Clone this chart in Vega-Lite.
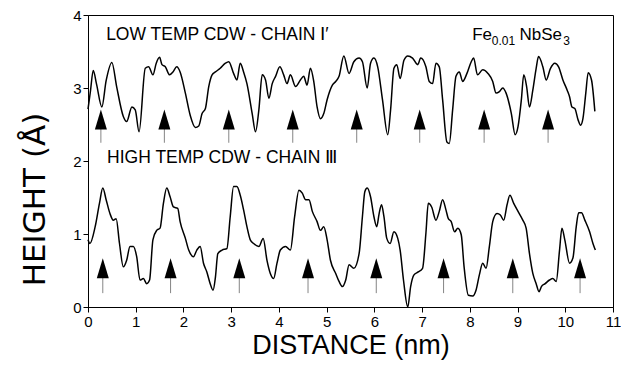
{
  "$schema": "https://vega.github.io/schema/vega-lite/v6.json",
  "width": 525,
  "height": 292,
  "autosize": "none",
  "padding": {"left": 88, "top": 15, "right": 8, "bottom": 62},
  "background": "white",
  "config": {
    "font": "Liberation Sans",
    "view": {"stroke": "black", "strokeWidth": 1}
  },
  "datasets": {
    "profiles": [
      {"series":"low","x":0.0,"y":2.71},{"series":"low","x":0.05,"y":2.95},{"series":"low","x":0.11,"y":3.24},{"series":"low","x":0.18,"y":3.05},{"series":"low","x":0.29,"y":2.74},{"series":"low","x":0.38,"y":3.10},{"series":"low","x":0.50,"y":3.35},{"series":"low","x":0.60,"y":3.02},{"series":"low","x":0.74,"y":2.61},{"series":"low","x":0.81,"y":2.54},{"series":"low","x":0.92,"y":2.74},{"series":"low","x":0.99,"y":2.70},{"series":"low","x":1.07,"y":2.40},{"series":"low","x":1.20,"y":3.27},{"series":"low","x":1.27,"y":3.29},{"series":"low","x":1.36,"y":3.18},{"series":"low","x":1.43,"y":3.34},{"series":"low","x":1.50,"y":3.42},{"series":"low","x":1.55,"y":3.32},{"series":"low","x":1.62,"y":3.29},{"series":"low","x":1.71,"y":3.18},{"series":"low","x":1.78,"y":3.22},{"series":"low","x":1.86,"y":3.29},{"series":"low","x":1.93,"y":3.22},{"series":"low","x":2.04,"y":2.93},{"series":"low","x":2.14,"y":2.63},{"series":"low","x":2.25,"y":2.46},{"series":"low","x":2.32,"y":2.48},{"series":"low","x":2.39,"y":2.65},{"series":"low","x":2.46,"y":2.72},{"series":"low","x":2.53,"y":3.02},{"series":"low","x":2.60,"y":3.18},{"series":"low","x":2.67,"y":3.22},{"series":"low","x":2.77,"y":3.27},{"series":"low","x":2.88,"y":3.34},{"series":"low","x":2.95,"y":3.36},{"series":"low","x":3.05,"y":3.20},{"series":"low","x":3.12,"y":3.11},{"series":"low","x":3.19,"y":3.34},{"series":"low","x":3.26,"y":3.22},{"series":"low","x":3.33,"y":3.06},{"series":"low","x":3.44,"y":2.65},{"series":"low","x":3.51,"y":2.40},{"series":"low","x":3.58,"y":2.70},{"series":"low","x":3.65,"y":3.18},{"series":"low","x":3.72,"y":3.11},{"series":"low","x":3.79,"y":2.86},{"series":"low","x":3.86,"y":3.06},{"series":"low","x":3.93,"y":3.16},{"series":"low","x":4.02,"y":3.29},{"series":"low","x":4.10,"y":3.18},{"series":"low","x":4.17,"y":3.06},{"series":"low","x":4.24,"y":3.18},{"series":"low","x":4.35,"y":3.02},{"series":"low","x":4.45,"y":3.11},{"series":"low","x":4.52,"y":3.16},{"series":"low","x":4.59,"y":3.04},{"series":"low","x":4.66,"y":3.27},{"series":"low","x":4.73,"y":3.09},{"series":"low","x":4.80,"y":2.74},{"series":"low","x":4.87,"y":2.58},{"series":"low","x":4.94,"y":2.65},{"series":"low","x":5.01,"y":2.84},{"series":"low","x":5.12,"y":3.04},{"series":"low","x":5.19,"y":3.09},{"series":"low","x":5.26,"y":3.16},{"series":"low","x":5.36,"y":3.44},{"series":"low","x":5.47,"y":3.20},{"series":"low","x":5.57,"y":3.36},{"series":"low","x":5.68,"y":3.41},{"series":"low","x":5.75,"y":3.36},{"series":"low","x":5.85,"y":3.00},{"series":"low","x":5.92,"y":3.34},{"series":"low","x":5.99,"y":3.41},{"series":"low","x":6.07,"y":3.29},{"series":"low","x":6.17,"y":2.84},{"series":"low","x":6.28,"y":2.36},{"series":"low","x":6.34,"y":2.70},{"series":"low","x":6.41,"y":3.27},{"series":"low","x":6.47,"y":3.32},{"series":"low","x":6.54,"y":3.13},{"series":"low","x":6.62,"y":3.38},{"series":"low","x":6.70,"y":3.44},{"series":"low","x":6.80,"y":3.41},{"series":"low","x":6.91,"y":3.32},{"series":"low","x":6.97,"y":3.41},{"series":"low","x":7.08,"y":3.29},{"series":"low","x":7.15,"y":3.09},{"series":"low","x":7.22,"y":3.06},{"series":"low","x":7.29,"y":3.34},{"series":"low","x":7.36,"y":3.29},{"series":"low","x":7.43,"y":2.84},{"series":"low","x":7.52,"y":2.26},{"series":"low","x":7.57,"y":2.24},{"series":"low","x":7.64,"y":2.70},{"series":"low","x":7.71,"y":3.16},{"series":"low","x":7.78,"y":3.22},{"series":"low","x":7.85,"y":3.09},{"series":"low","x":7.94,"y":3.20},{"series":"low","x":8.03,"y":3.36},{"series":"low","x":8.08,"y":3.41},{"series":"low","x":8.16,"y":3.18},{"series":"low","x":8.27,"y":3.25},{"series":"low","x":8.38,"y":3.20},{"series":"low","x":8.48,"y":3.09},{"series":"low","x":8.55,"y":2.93},{"series":"low","x":8.62,"y":2.95},{"series":"low","x":8.69,"y":3.00},{"series":"low","x":8.76,"y":2.93},{"series":"low","x":8.87,"y":2.65},{"series":"low","x":8.95,"y":2.36},{"series":"low","x":9.01,"y":2.47},{"series":"low","x":9.08,"y":2.84},{"series":"low","x":9.13,"y":3.18},{"series":"low","x":9.19,"y":3.02},{"series":"low","x":9.25,"y":2.74},{"series":"low","x":9.32,"y":2.97},{"series":"low","x":9.39,"y":3.27},{"series":"low","x":9.44,"y":3.43},{"series":"low","x":9.53,"y":3.29},{"series":"low","x":9.60,"y":3.11},{"series":"low","x":9.69,"y":3.27},{"series":"low","x":9.78,"y":3.34},{"series":"low","x":9.86,"y":3.29},{"series":"low","x":9.95,"y":3.11},{"series":"low","x":10.04,"y":2.97},{"series":"low","x":10.09,"y":2.88},{"series":"low","x":10.14,"y":2.74},{"series":"low","x":10.20,"y":2.72},{"series":"low","x":10.27,"y":2.56},{"series":"low","x":10.32,"y":2.49},{"series":"low","x":10.37,"y":2.58},{"series":"low","x":10.43,"y":2.93},{"series":"low","x":10.48,"y":3.21},{"series":"low","x":10.55,"y":3.11},{"series":"low","x":10.62,"y":2.68},
      {"series":"high","x":0.00,"y":0.92},{"series":"high","x":0.04,"y":0.87},{"series":"high","x":0.15,"y":1.10},{"series":"high","x":0.24,"y":1.42},{"series":"high","x":0.31,"y":1.63},{"series":"high","x":0.38,"y":1.47},{"series":"high","x":0.46,"y":1.28},{"series":"high","x":0.53,"y":1.19},{"series":"high","x":0.59,"y":1.21},{"series":"high","x":0.66,"y":0.87},{"series":"high","x":0.74,"y":0.55},{"series":"high","x":0.81,"y":0.64},{"series":"high","x":0.88,"y":0.83},{"series":"high","x":0.95,"y":0.83},{"series":"high","x":1.02,"y":0.69},{"series":"high","x":1.09,"y":0.37},{"series":"high","x":1.16,"y":0.39},{"series":"high","x":1.23,"y":0.32},{"series":"high","x":1.29,"y":0.37},{"series":"high","x":1.36,"y":0.92},{"series":"high","x":1.44,"y":1.05},{"series":"high","x":1.51,"y":1.08},{"series":"high","x":1.58,"y":1.42},{"series":"high","x":1.65,"y":1.63},{"series":"high","x":1.72,"y":1.51},{"series":"high","x":1.79,"y":1.37},{"series":"high","x":1.88,"y":1.35},{"series":"high","x":1.93,"y":1.17},{"series":"high","x":2.04,"y":0.94},{"series":"high","x":2.11,"y":0.78},{"series":"high","x":2.21,"y":0.69},{"series":"high","x":2.28,"y":0.78},{"series":"high","x":2.35,"y":0.83},{"series":"high","x":2.42,"y":0.60},{"series":"high","x":2.49,"y":0.48},{"series":"high","x":2.56,"y":0.32},{"series":"high","x":2.62,"y":0.23},{"series":"high","x":2.67,"y":0.41},{"series":"high","x":2.72,"y":0.73},{"series":"high","x":2.81,"y":0.78},{"series":"high","x":2.91,"y":0.80},{"series":"high","x":2.98,"y":1.24},{"series":"high","x":3.05,"y":1.65},{"series":"high","x":3.12,"y":1.65},{"series":"high","x":3.19,"y":1.53},{"series":"high","x":3.26,"y":1.33},{"series":"high","x":3.33,"y":1.10},{"series":"high","x":3.40,"y":0.92},{"series":"high","x":3.47,"y":0.87},{"series":"high","x":3.58,"y":0.83},{"series":"high","x":3.67,"y":0.94},{"series":"high","x":3.75,"y":0.64},{"series":"high","x":3.82,"y":0.46},{"series":"high","x":3.89,"y":0.39},{"series":"high","x":3.96,"y":0.60},{"series":"high","x":4.03,"y":0.78},{"series":"high","x":4.14,"y":0.83},{"series":"high","x":4.24,"y":0.78},{"series":"high","x":4.33,"y":1.24},{"series":"high","x":4.42,"y":1.60},{"series":"high","x":4.49,"y":1.56},{"series":"high","x":4.56,"y":1.47},{"series":"high","x":4.63,"y":1.47},{"series":"high","x":4.70,"y":1.31},{"series":"high","x":4.80,"y":1.17},{"series":"high","x":4.87,"y":1.05},{"series":"high","x":4.94,"y":1.10},{"series":"high","x":5.01,"y":0.92},{"series":"high","x":5.08,"y":0.64},{"series":"high","x":5.19,"y":0.46},{"series":"high","x":5.26,"y":0.35},{"series":"high","x":5.33,"y":0.28},{"series":"high","x":5.40,"y":0.37},{"series":"high","x":5.47,"y":0.58},{"series":"high","x":5.57,"y":0.53},{"series":"high","x":5.68,"y":0.73},{"series":"high","x":5.75,"y":1.24},{"series":"high","x":5.80,"y":1.58},{"series":"high","x":5.85,"y":1.63},{"series":"high","x":5.92,"y":1.51},{"series":"high","x":5.99,"y":1.24},{"series":"high","x":6.05,"y":1.10},{"series":"high","x":6.10,"y":1.28},{"series":"high","x":6.15,"y":1.40},{"series":"high","x":6.20,"y":1.24},{"series":"high","x":6.26,"y":0.94},{"series":"high","x":6.33,"y":0.87},{"series":"high","x":6.41,"y":1.03},{"series":"high","x":6.49,"y":0.94},{"series":"high","x":6.54,"y":0.78},{"series":"high","x":6.61,"y":0.37},{"series":"high","x":6.70,"y":0.00},{"series":"high","x":6.76,"y":0.28},{"series":"high","x":6.83,"y":0.44},{"series":"high","x":6.92,"y":0.48},{"series":"high","x":7.01,"y":0.53},{"series":"high","x":7.08,"y":1.01},{"series":"high","x":7.13,"y":1.42},{"series":"high","x":7.20,"y":1.37},{"series":"high","x":7.29,"y":1.19},{"series":"high","x":7.36,"y":1.31},{"series":"high","x":7.43,"y":1.47},{"series":"high","x":7.50,"y":1.33},{"series":"high","x":7.55,"y":1.21},{"series":"high","x":7.61,"y":1.17},{"series":"high","x":7.68,"y":1.03},{"series":"high","x":7.75,"y":1.08},{"series":"high","x":7.82,"y":0.99},{"series":"high","x":7.88,"y":0.55},{"series":"high","x":7.97,"y":0.16},{"series":"high","x":8.06,"y":0.15},{"series":"high","x":8.13,"y":0.23},{"series":"high","x":8.20,"y":0.44},{"series":"high","x":8.27,"y":0.60},{"series":"high","x":8.34,"y":0.53},{"series":"high","x":8.41,"y":0.83},{"series":"high","x":8.48,"y":1.17},{"series":"high","x":8.57,"y":1.28},{"series":"high","x":8.64,"y":1.26},{"series":"high","x":8.71,"y":1.19},{"series":"high","x":8.78,"y":1.40},{"series":"high","x":8.84,"y":1.53},{"series":"high","x":8.92,"y":1.42},{"series":"high","x":9.01,"y":1.31},{"series":"high","x":9.11,"y":1.19},{"series":"high","x":9.18,"y":1.08},{"series":"high","x":9.25,"y":0.73},{"series":"high","x":9.32,"y":0.46},{"series":"high","x":9.39,"y":0.32},{"series":"high","x":9.45,"y":0.21},{"series":"high","x":9.50,"y":0.28},{"series":"high","x":9.58,"y":0.32},{"series":"high","x":9.67,"y":0.37},{"series":"high","x":9.74,"y":0.39},{"series":"high","x":9.81,"y":0.35},{"series":"high","x":9.88,"y":0.78},{"series":"high","x":9.93,"y":1.08},{"series":"high","x":9.99,"y":0.92},{"series":"high","x":10.09,"y":0.60},{"series":"high","x":10.16,"y":0.67},{"series":"high","x":10.23,"y":1.10},{"series":"high","x":10.28,"y":1.29},{"series":"high","x":10.34,"y":1.29},{"series":"high","x":10.41,"y":1.19},{"series":"high","x":10.51,"y":1.03},{"series":"high","x":10.58,"y":0.87},{"series":"high","x":10.63,"y":0.78}
    ],
    "arrows": [
      {"x":0.27,"y":2.57,"y2":2.25},{"x":1.60,"y":2.57,"y2":2.25},{"x":2.95,"y":2.57,"y2":2.25},{"x":4.29,"y":2.57,"y2":2.25},{"x":5.63,"y":2.57,"y2":2.25},{"x":6.95,"y":2.57,"y2":2.25},{"x":8.30,"y":2.57,"y2":2.25},{"x":9.64,"y":2.57,"y2":2.25},
      {"x":0.31,"y":0.53,"y2":0.19},{"x":1.73,"y":0.53,"y2":0.19},{"x":3.17,"y":0.53,"y2":0.19},{"x":4.61,"y":0.53,"y2":0.19},{"x":6.04,"y":0.53,"y2":0.19},{"x":7.45,"y":0.53,"y2":0.19},{"x":8.90,"y":0.53,"y2":0.19},{"x":10.31,"y":0.53,"y2":0.19}
    ],
    "labels": [
      {"x":0.38,"y":3.72,"text":"LOW TEMP CDW - CHAIN Ⅰ′"},
      {"x":0.40,"y":2.04,"text":"HIGH TEMP CDW - CHAIN Ⅲ"}
    ],
    "formula": [
      {"role":"main","x":8.05,"y":3.73,"text":"Fe"},
      {"role":"sub","x":8.46,"y":3.64,"text":"0.01"},
      {"role":"main","x":9.04,"y":3.73,"text":"NbSe"},
      {"role":"sub","x":9.96,"y":3.64,"text":"3"}
    ]
  },
  "encoding": {
    "x": {"field":"x","type":"quantitative","scale":{"domain":[0,11],"nice":false},
      "axis":{"values":[0,1,2,3,4,5,6,7,8,9,10,11],"grid":false,"tickSize":5,"tickColor":"black","domainColor":"black","labelColor":"black","labelFontSize":15,"labelPadding":2,"labelFlush":false,"title":"DISTANCE (nm)","titleFontSize":27,"titleFontWeight":"normal","titleColor":"black","titlePadding":3}},
    "y": {"field":"y","type":"quantitative","scale":{"domain":[0,4],"nice":false},
      "axis":{"values":[0,1,2,3,4],"grid":false,"tickSize":5,"tickColor":"black","domainColor":"black","labelColor":"black","labelFontSize":15,"labelPadding":2,"labelFlush":false,"title":"HEIGHT (Å)","titleFont":"DejaVu Sans","titleFontSize":31,"titleFontWeight":"normal","titleColor":"black","titlePadding":21,"titleY":184}}
  },
  "layer": [
    {
      "data": {"name":"profiles"},
      "mark": {"type":"line","interpolate":"monotone","color":"black","strokeWidth":1.5},
      "encoding": {"detail":{"field":"series"}}
    },
    {
      "data": {"name":"arrows"},
      "mark": {"type":"rule","color":"#666","strokeWidth":0.8},
      "encoding": {"y2":{"field":"y2"}}
    },
    {
      "data": {"name":"arrows"},
      "mark": {"type":"point","shape":"M0,-1L0.6,1L-0.6,1Z","filled":true,"color":"black","opacity":1,"size":400,"strokeWidth":0}
    },
    {
      "data": {"name":"labels"},
      "mark": {"type":"text","align":"left","baseline":"middle","fontSize":17.5,"color":"black"},
      "encoding": {"text":{"field":"text"}}
    },
    {
      "data": {"name":"formula"},
      "transform": [{"filter":"datum.role === 'main'"}],
      "mark": {"type":"text","align":"left","baseline":"middle","fontSize":17,"color":"black"},
      "encoding": {"text":{"field":"text"}}
    },
    {
      "data": {"name":"formula"},
      "transform": [{"filter":"datum.role === 'sub'"}],
      "mark": {"type":"text","align":"left","baseline":"middle","fontSize":12,"color":"black"},
      "encoding": {"text":{"field":"text"}}
    }
  ]
}
